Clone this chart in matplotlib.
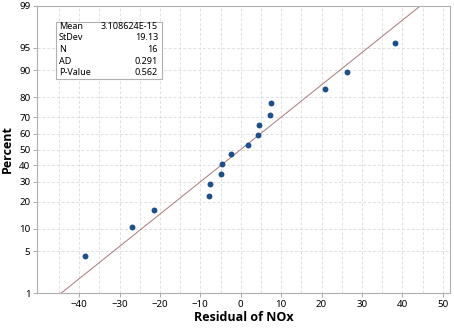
from statistics import NormalDist

import numpy as np
from matplotlib import pyplot as plt

# residuals (sorted)
residuals = [-38.5, -26.8, -21.5, -7.9, -7.7, -4.95, -4.6, -2.3,
             1.9, 4.2, 4.5, 7.2, 7.6, 20.9, 26.3, 38.1]
mean = 3.108624e-15
stdev = 19.13
stat_names = ["Mean", "StDev", "N", "AD", "P-Value"]
stat_values = ["3.108624E-15", "19.13", "16", "0.291", "0.562"]
pct_ticks = [1, 5, 10, 20, 30, 40, 50, 60, 70, 80, 90, 95, 99]
x_ticks = [-40, -30, -20, -10, 0, 10, 20, 30, 40, 50]

nd = NormalDist()
n = len(residuals)
# median ranks as Minitab does
z_pts = [nd.inv_cdf((i - 0.3) / (n + 0.4)) for i in range(1, n + 1)]

plt.rcParams['font.family'] = ['Noto Sans', 'DejaVu Sans']
fig = plt.figure(figsize=(4.54, 3.28), dpi=100)
ax = fig.add_axes([0.0822, 0.1058, 0.9090, 0.8768])

zlo, zhi = nd.inv_cdf(0.01), nd.inv_cdf(0.99)
ax.set_ylim(zlo, zhi)
ax.set_xlim(-50.35, 51.8)

# grid
grid_kw = dict(color='#e0e0e0', lw=0.7, ls=(0, (3, 2)), zorder=0)
for gx in np.arange(-45, 51, 5):
    ax.axvline(gx, **grid_kw)
for p in pct_ticks:
    ax.axhline(nd.inv_cdf(p / 100), **grid_kw)

# fitted line
zz = np.linspace(zlo, zhi, 50)
ax.plot(mean + stdev * zz, zz, color='#a87878', lw=0.7, zorder=2)

ax.scatter(residuals, z_pts, s=18, color='#1c4f8f', zorder=3, linewidths=0)

ax.set_yticks([nd.inv_cdf(p / 100) for p in pct_ticks])
ax.set_yticklabels([str(p) for p in pct_ticks])
ax.set_xticks(x_ticks)
ax.tick_params(labelsize=7, length=3, width=0.6, color='#a0a0a0', pad=2)
for s in ax.spines.values():
    s.set_color('#b0b0b0')
    s.set_linewidth(0.8)

lab_font = ['Open Sans', 'DejaVu Sans']
ax.set_xlabel("Residual of NOx", fontsize=9, fontweight='bold', family=lab_font, labelpad=1)
ax.set_ylabel("Percent", fontsize=9, fontweight='bold', family=lab_font, labelpad=4)

# stats box
box = plt.Rectangle((56 / 454, 1 - 79 / 328), 106 / 454, 57.5 / 328,
                    transform=fig.transFigure, facecolor='white',
                    edgecolor='#b0b0b0', lw=0.8, zorder=5)
fig.patches.append(box)
for k, (nm, val) in enumerate(zip(stat_names, stat_values)):
    yy = 1 - (26.5 + k * 11.5) / 328
    fig.text(59 / 454, yy, nm, fontsize=6.5, va='center', ha='left', zorder=6)
    fig.text(158 / 454, yy, val, fontsize=6.5, va='center', ha='right', zorder=6)

fig.savefig("out.png", dpi=100)
